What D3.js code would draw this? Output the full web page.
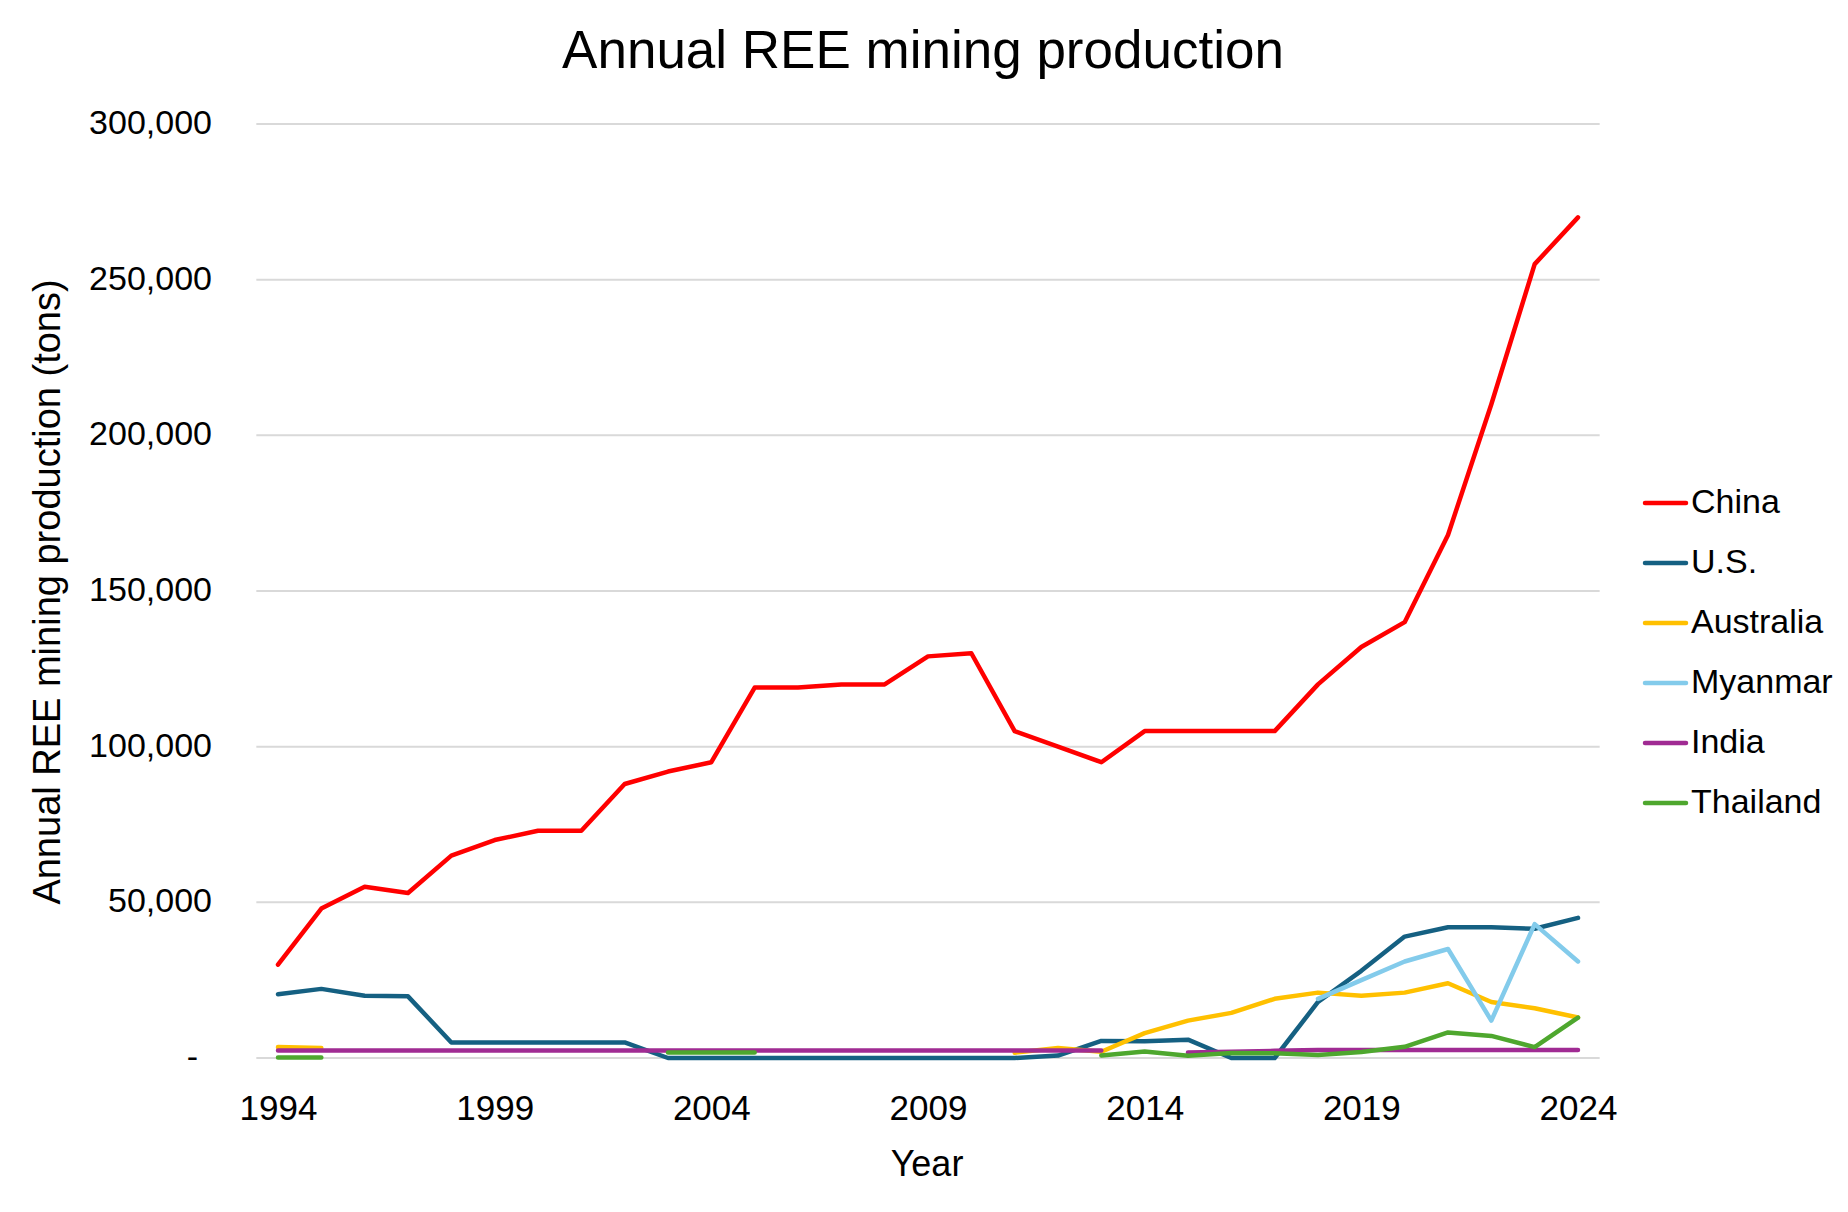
<!DOCTYPE html>
<html>
<head>
<meta charset="utf-8">
<script src="https://cdn.jsdelivr.net/npm/d3@7"></script>
<style>
  html, body { margin: 0; padding: 0; background: #fff; }
  svg { display: block; font-family: "Liberation Sans", Arial, sans-serif; }
</style>
</head>
<body>
<svg id="chart" width="1848" height="1212"></svg>
<script>
const years = d3.range(1994, 2025);
const xTickYears = [1994, 1999, 2004, 2009, 2014, 2019, 2024];
const yTicks = [0, 50000, 100000, 150000, 200000, 250000, 300000];

const seriesNames = ["China", "U.S.", "Australia", "Myanmar", "India", "Thailand"];
const seriesColors = ["#FF0000", "#156082", "#FFC000", "#83CBEB", "#A02B93", "#4EA72E"];

// values by year 1994..2024 (null = no data)
const china = [30000, 48000, 55000, 53000, 65000, 70000, 73000, 73000, 88000, 92000, 95000,
  119000, 119000, 120000, 120000, 129000, 130000, 105000, 100000, 95000, 105000,
  105000, 105000, 105000, 120000, 132000, 140000, 168000, 210000, 255000, 270000];
const us = [20500, 22200, 20000, 19800, 5000, 5000, 5000, 5000, 5000, 0, 0,
  0, 0, 0, 0, 0, 0, 0, 800, 5500, 5400,
  5900, 0, 0, 18000, 28000, 39000, 42000, 42000, 41500, 45000];
const australia = [3500, 3200, null, null, null, null, null, null, null, null, null,
  null, null, null, null, null, null, 1700, 3200, 2000, 8000,
  12000, 14500, 19000, 21000, 20000, 21000, 24000, 18000, 16000, 13000];
const myanmar = [null, null, null, null, null, null, null, null, null, null, null,
  null, null, null, null, null, null, null, null, null, null,
  null, null, null, 19000, 25000, 31000, 35000, 12000, 43000, 31000];
const india = [2400, 2400, 2400, 2400, 2400, 2400, 2400, 2400, 2400, 2400, 2400,
  2400, 2400, 2400, 2400, 2400, 2400, 2400, 2400, 2400, null,
  1800, 2000, 2300, 2600, 2600, 2600, 2600, 2600, 2600, 2600];
const thailand = [200, 200, null, null, null, null, null, null, null, 1800, 1800,
  1800, null, null, null, null, null, null, null, 800, 2100,
  700, 1600, 1500, 1000, 1900, 3600, 8200, 7100, 3500, 13000];

const seriesValues = [china, us, australia, myanmar, india, thailand];

const svg = d3.select("#chart");
const x = d3.scaleLinear().domain([1994, 2024]).range([278, 1578]);
const y = d3.scaleLinear().domain([0, 300000]).range([1058, 124]);

// gridlines
svg.append("g").selectAll("line").data(yTicks).join("line")
  .attr("x1", x(1993.5)).attr("x2", x(2024.5))
  .attr("y1", d => y(d)).attr("y2", d => y(d))
  .attr("stroke", "#D9D9D9").attr("stroke-width", 2);

// y axis labels
const fmt = d3.format(",");
const yAxis = d3.axisLeft(y).tickValues(yTicks).tickSize(0).tickPadding(0)
  .tickFormat(d => d === 0 ? "-" : fmt(d));
const gy = svg.append("g").attr("transform", "translate(212,0)").call(yAxis);
gy.select(".domain").remove();
gy.selectAll("text").attr("font-size", 34).attr("fill", "#000")
  .attr("font-family", "Liberation Sans, Arial, sans-serif")
  .attr("dy", "0.28em")
  .attr("dx", d => d === 0 ? -14 : 0);

// x axis labels
const xAxis = d3.axisBottom(x).tickValues(xTickYears).tickSize(0).tickPadding(0)
  .tickFormat(d3.format("d"));
const gx = svg.append("g").attr("transform", "translate(0,1119.5)").call(xAxis);
gx.select(".domain").remove();
gx.selectAll("text").attr("font-size", 35).attr("fill", "#000")
  .attr("font-family", "Liberation Sans, Arial, sans-serif")
  .attr("dy", 0);

// lines
const line = d3.line()
  .defined(d => d.v !== null)
  .x(d => x(d.year)).y(d => y(d.v));

seriesValues.forEach((vals, i) => {
  const pts = years.map((yr, k) => ({ year: yr, v: vals[k] }));
  svg.append("path")
    .datum(pts)
    .attr("d", line)
    .attr("fill", "none")
    .attr("stroke", seriesColors[i])
    .attr("stroke-width", 4.5)
    .attr("stroke-linejoin", "round")
    .attr("stroke-linecap", "round");
});

// title
svg.append("text").attr("x", 923).attr("y", 68)
  .attr("text-anchor", "middle").attr("font-size", 53).attr("fill", "#000")
  .text("Annual REE mining production");

// axis titles
svg.append("text").attr("x", 927).attr("y", 1175.5)
  .attr("text-anchor", "middle").attr("font-size", 36).attr("fill", "#000")
  .text("Year");
svg.append("text")
  .attr("transform", "translate(60,592) rotate(-90)")
  .attr("text-anchor", "middle").attr("font-size", 38).attr("fill", "#000")
  .text("Annual REE mining production (tons)");

// legend
const legend = svg.append("g");
const legY = d3.scaleLinear().domain([0, 1]).range([503, 563]);
seriesNames.forEach((name, i) => {
  const yy = legY(i);
  legend.append("line")
    .attr("x1", 1645).attr("x2", 1686)
    .attr("y1", yy).attr("y2", yy)
    .attr("stroke", seriesColors[i]).attr("stroke-width", 4.5)
    .attr("stroke-linecap", "round");
  legend.append("text")
    .attr("x", 1691).attr("y", yy).attr("dy", "0.29em")
    .attr("font-size", 34).attr("fill", "#000")
    .text(name);
});
</script>
</body>
</html>
